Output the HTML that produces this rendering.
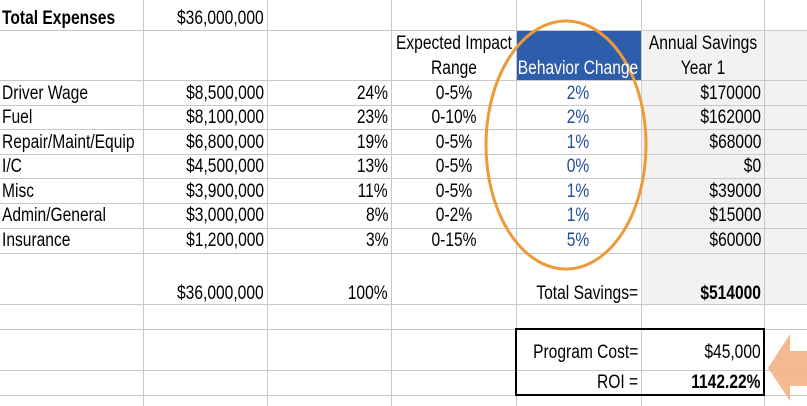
<!DOCTYPE html>
<html><head><meta charset="utf-8"><style>
body{margin:0;width:807px;height:406px;overflow:hidden;background:#fff;position:relative;font-family:"Liberation Sans Narrow","Liberation Sans",Arial,sans-serif}
.c{position:absolute;white-space:nowrap;font-size:19px;line-height:20px;color:#000;transform:scaleX(.82);margin-top:1px}
.l{transform-origin:left center}
.r{transform-origin:right center;text-align:right}
.m{transform-origin:center center;text-align:center;width:200px}
.b{font-weight:bold}
.bl{color:#1f4e9a}
</style></head><body>
<div style="position:absolute;left:641px;top:30px;width:166px;height:274px;background:#f2f2f2"></div>
<div style="position:absolute;left:516px;top:30px;width:125px;height:50px;background:#2e5dab"></div>
<svg width="807" height="406" style="position:absolute;left:0;top:0">
<g stroke="#c8c8c8" stroke-width="1">
<line x1="143.5" y1="0" x2="143.5" y2="406"/><line x1="267.5" y1="0" x2="267.5" y2="406"/>
<line x1="391.5" y1="0" x2="391.5" y2="406"/><line x1="516.5" y1="0" x2="516.5" y2="406"/>
<line x1="641.5" y1="0" x2="641.5" y2="406"/><line x1="764.5" y1="0" x2="764.5" y2="406"/>
<line x1="0" y1="30.5" x2="807" y2="30.5"/><line x1="0" y1="80.5" x2="807" y2="80.5"/>
<line x1="0" y1="105.5" x2="807" y2="105.5"/><line x1="0" y1="129.5" x2="807" y2="129.5"/>
<line x1="0" y1="154.5" x2="807" y2="154.5"/><line x1="0" y1="178.5" x2="807" y2="178.5"/>
<line x1="0" y1="203.5" x2="807" y2="203.5"/><line x1="0" y1="228.5" x2="807" y2="228.5"/>
<line x1="0" y1="253.5" x2="807" y2="253.5"/><line x1="0" y1="304.5" x2="807" y2="304.5"/>
<line x1="0" y1="329.5" x2="807" y2="329.5"/><line x1="0" y1="370.5" x2="807" y2="370.5"/>
<line x1="0" y1="395.5" x2="807" y2="395.5"/>
</g>
<rect x="516" y="329" width="248" height="66" fill="none" stroke="#000" stroke-width="2"/>
<ellipse cx="566" cy="145" rx="80" ry="124" fill="none" stroke="#ec9a3a" stroke-width="3"/>
<polygon points="768,368 790,334 790,351 807,351 807,386 790,386 790,401" fill="#f4b183" opacity=".9"/>
</svg>

<div class="c l b" style="left:2px;top:8px">Total Expenses</div>
<div class="c r" style="right:543px;top:8px">$36,000,000</div>

<div class="c m" style="left:354px;top:33px">Expected Impact</div>
<div class="c m" style="left:354px;top:58px">Range</div>
<div class="c m" style="left:478px;top:58px;color:#fff">Behavior Change</div>
<div class="c m" style="left:603px;top:33px">Annual Savings</div>
<div class="c m" style="left:603px;top:58px">Year 1</div>

<div class="c l" style="left:2px;top:83px">Driver Wage</div>
<div class="c l" style="left:2px;top:107px">Fuel</div>
<div class="c l" style="left:2px;top:132px">Repair/Maint/Equip</div>
<div class="c l" style="left:2px;top:156px">I/C</div>
<div class="c l" style="left:2px;top:181px">Misc</div>
<div class="c l" style="left:2px;top:205px">Admin/General</div>
<div class="c l" style="left:2px;top:230px">Insurance</div>

<div class="c r" style="right:543px;top:83px">$8,500,000</div>
<div class="c r" style="right:543px;top:107px">$8,100,000</div>
<div class="c r" style="right:543px;top:132px">$6,800,000</div>
<div class="c r" style="right:543px;top:156px">$4,500,000</div>
<div class="c r" style="right:543px;top:181px">$3,900,000</div>
<div class="c r" style="right:543px;top:205px">$3,000,000</div>
<div class="c r" style="right:543px;top:230px">$1,200,000</div>

<div class="c r" style="right:419px;top:83px">24%</div>
<div class="c r" style="right:419px;top:107px">23%</div>
<div class="c r" style="right:419px;top:132px">19%</div>
<div class="c r" style="right:419px;top:156px">13%</div>
<div class="c r" style="right:419px;top:181px">11%</div>
<div class="c r" style="right:419px;top:205px">8%</div>
<div class="c r" style="right:419px;top:230px">3%</div>

<div class="c m" style="left:354px;top:83px">0-5%</div>
<div class="c m" style="left:354px;top:107px">0-10%</div>
<div class="c m" style="left:354px;top:132px">0-5%</div>
<div class="c m" style="left:354px;top:156px">0-5%</div>
<div class="c m" style="left:354px;top:181px">0-5%</div>
<div class="c m" style="left:354px;top:205px">0-2%</div>
<div class="c m" style="left:354px;top:230px">0-15%</div>

<div class="c m bl" style="left:478px;top:83px">2%</div>
<div class="c m bl" style="left:478px;top:107px">2%</div>
<div class="c m bl" style="left:478px;top:132px">1%</div>
<div class="c m bl" style="left:478px;top:156px">0%</div>
<div class="c m bl" style="left:478px;top:181px">1%</div>
<div class="c m bl" style="left:478px;top:205px">1%</div>
<div class="c m bl" style="left:478px;top:230px">5%</div>

<div class="c r" style="right:46px;top:83px">$170000</div>
<div class="c r" style="right:46px;top:107px">$162000</div>
<div class="c r" style="right:46px;top:132px">$68000</div>
<div class="c r" style="right:46px;top:156px">$0</div>
<div class="c r" style="right:46px;top:181px">$39000</div>
<div class="c r" style="right:46px;top:205px">$15000</div>
<div class="c r" style="right:46px;top:230px">$60000</div>

<div class="c r" style="right:543px;top:283px">$36,000,000</div>
<div class="c r" style="right:419px;top:283px">100%</div>
<div class="c r" style="right:169px;top:283px">Total Savings=</div>
<div class="c r b" style="right:46px;top:283px">$514000</div>

<div class="c r" style="right:169px;top:342px">Program Cost=</div>
<div class="c r" style="right:46px;top:342px">$45,000</div>
<div class="c r" style="right:169px;top:372px">ROI =</div>
<div class="c r b" style="right:46px;top:372px">1142.22%</div>
</body></html>
